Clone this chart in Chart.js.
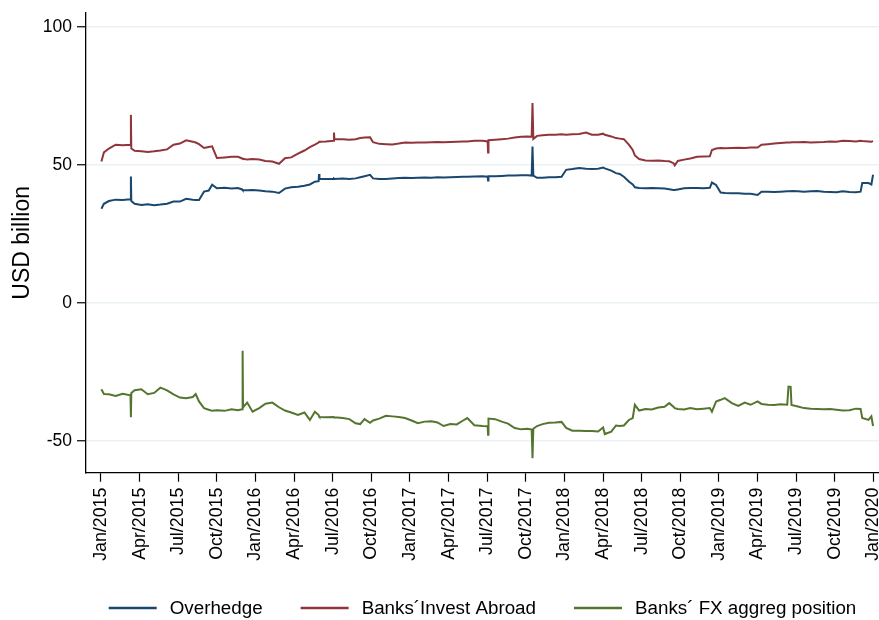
<!DOCTYPE html>
<html>
<head>
<meta charset="utf-8">
<script src="https://cdn.jsdelivr.net/npm/chart.js@4.4.1/dist/chart.umd.min.js"></script>
<style>
  html, body { margin: 0; padding: 0; background: #ffffff; }
  canvas { display: block; }
</style>
</head>
<body>
<canvas id="c" width="879" height="620"></canvas>
<script>
// ---------------- DATA ----------------
const seriesNames = ["Overhedge", "Banks\u00B4Invest Abroad", "Banks\u00B4 FX aggreg position"];

const tickLabels = ["Jan/2015","Apr/2015","Jul/2015","Oct/2015","Jan/2016","Apr/2016","Jul/2016","Oct/2016",
  "Jan/2017","Apr/2017","Jul/2017","Oct/2017","Jan/2018","Apr/2018","Jul/2018","Oct/2018",
  "Jan/2019","Apr/2019","Jul/2019","Oct/2019","Jan/2020"];

const yTickValues = [-50, 0, 50, 100];

const dates = [
 "2015-01-02","2015-01-08","2015-01-20","2015-02-05","2015-02-20","2015-03-10","2015-03-11","2015-03-12","2015-03-20","2015-04-05",
 "2015-04-20","2015-05-05","2015-05-20","2015-06-05","2015-06-20","2015-07-05","2015-07-20","2015-08-05","2015-08-12","2015-08-20",
 "2015-09-01","2015-09-12","2015-09-20","2015-10-01","2015-10-20","2015-11-05","2015-11-20","2015-11-30","2015-12-01","2015-12-02",
 "2015-12-12","2015-12-25","2016-01-10","2016-01-25","2016-02-10","2016-02-25","2016-03-10","2016-03-25","2016-04-10","2016-04-25",
 "2016-05-08","2016-05-20","2016-05-29","2016-05-30","2016-05-31","2016-06-15","2016-07-03","2016-07-04","2016-07-05","2016-07-25",
 "2016-08-10","2016-08-25","2016-09-05","2016-09-15","2016-09-28","2016-10-05","2016-10-20","2016-11-05","2016-11-20","2016-12-05",
 "2016-12-20","2017-01-05","2017-01-20","2017-02-05","2017-02-20","2017-03-05","2017-03-20","2017-04-05","2017-04-20","2017-05-05",
 "2017-05-15","2017-06-01","2017-06-20","2017-07-02","2017-07-03","2017-07-04","2017-07-20","2017-08-05","2017-08-20","2017-09-05",
 "2017-09-20","2017-10-05","2017-10-15","2017-10-17","2017-10-19","2017-10-28","2017-11-10","2017-11-25","2017-12-10","2017-12-25",
 "2018-01-05","2018-01-20","2018-02-05","2018-02-20","2018-03-05","2018-03-20","2018-04-01","2018-04-05","2018-04-20","2018-05-01",
 "2018-05-10","2018-05-20","2018-06-01","2018-06-10","2018-06-15","2018-06-25","2018-07-10","2018-07-25","2018-08-10","2018-08-25",
 "2018-09-05","2018-09-15","2018-09-18","2018-09-25","2018-10-10","2018-10-25","2018-11-10","2018-11-25","2018-12-10","2018-12-15",
 "2018-12-25","2019-01-05","2019-01-15","2019-02-01","2019-02-15","2019-03-01","2019-03-15","2019-04-01","2019-04-10","2019-04-25",
 "2019-05-10","2019-05-25","2019-06-10","2019-06-13","2019-06-18","2019-06-20","2019-07-05","2019-07-20","2019-08-05","2019-08-20",
 "2019-09-05","2019-09-20","2019-10-05","2019-10-20","2019-11-05","2019-11-20","2019-12-01","2019-12-05","2019-12-20","2019-12-27",
 "2019-12-31"
];

const overhedge = [
 34.2,36.0,37.0,37.5,37.4,37.6,45.9,37.0,36.0,35.6,
 35.8,35.5,35.7,36.0,36.8,36.8,37.8,37.5,37.4,37.4,
 40.4,40.8,42.9,41.6,41.8,41.5,41.7,41.2,41.0,41.0,
 40.9,41.0,40.8,40.5,40.4,39.9,41.5,42.0,42.2,42.5,
 43.0,44.0,44.2,46.8,45.0,45.0,45.0,45.1,45.0,45.2,
 45.0,45.2,45.6,46.0,46.5,45.2,45.0,45.0,45.2,45.3,
 45.4,45.3,45.4,45.5,45.4,45.6,45.5,45.6,45.7,45.8,
 45.8,45.9,46.0,45.8,44.4,46.0,46.0,46.1,46.2,46.2,
 46.3,46.3,46.2,56.7,46.2,45.4,45.4,45.6,45.6,45.8,
 48.3,48.6,49.0,48.7,48.6,48.7,49.1,48.8,48.0,47.1,
 46.8,45.8,44.1,43.0,42.0,41.7,41.6,41.7,41.6,41.5,
 41.3,41.0,41.0,41.2,41.6,41.7,41.7,41.6,41.8,43.7,
 42.8,40.1,39.9,39.8,39.8,39.6,39.6,39.2,40.4,40.4,
 40.3,40.4,40.5,40.5,40.5,40.6,40.5,40.4,40.5,40.6,
 40.4,40.3,40.2,40.5,40.3,40.2,40.4,43.5,43.5,43.0,
 46.5
];

const investAbroad = [
 51.3,54.6,56.0,57.4,57.2,57.4,68.2,56.0,55.2,55.0,
 54.8,55.0,55.3,55.7,57.4,57.8,59.0,58.5,58.2,57.6,
 56.2,56.6,56.8,52.6,52.8,53.0,53.0,52.4,52.3,52.3,
 52.0,52.2,52.0,51.5,51.3,50.5,52.5,52.8,54.2,55.3,
 56.5,57.4,58.2,58.4,58.5,58.6,58.8,61.8,59.4,59.4,
 59.2,59.4,59.8,60.0,60.1,58.3,57.7,57.6,57.5,57.8,
 58.2,58.1,58.2,58.2,58.3,58.4,58.3,58.4,58.5,58.6,
 58.6,58.8,58.8,58.6,54.6,59.0,59.2,59.4,59.6,60.0,
 60.3,60.4,60.3,72.5,59.5,60.6,60.8,61.0,61.0,61.2,
 61.0,61.2,61.3,61.8,61.0,61.0,61.4,61.0,60.4,59.8,
 59.6,59.4,57.4,55.5,53.5,52.2,51.7,51.6,51.7,51.5,
 51.4,50.7,49.9,51.5,52.0,52.4,53.0,53.1,53.2,55.5,
 56.0,56.2,56.1,56.2,56.3,56.2,56.4,56.4,57.4,57.6,
 57.8,58.0,58.2,58.2,58.2,58.3,58.3,58.4,58.2,58.3,
 58.4,58.6,58.5,58.8,58.7,58.6,58.8,58.7,58.6,58.5,
 58.7
];

const fxPosition = [
 -31.2,-32.9,-33.0,-33.6,-32.8,-33.4,-41.3,-32.5,-31.5,-31.2,
 -33.0,-32.5,-30.6,-31.6,-33.0,-34.2,-34.4,-34.0,-32.9,-35.6,
 -38.0,-38.6,-39.0,-38.8,-39.0,-38.4,-38.8,-38.4,-17.2,-37.7,
 -36.0,-39.3,-38.0,-36.4,-36.0,-37.7,-38.9,-39.6,-40.5,-39.6,
 -42.3,-39.3,-40.5,-41.0,-41.2,-41.3,-41.2,-41.3,-41.3,-41.6,
 -42.0,-43.5,-43.8,-42.0,-43.3,-42.5,-41.8,-40.8,-41.0,-41.2,
 -41.6,-42.5,-43.5,-42.9,-42.8,-43.2,-44.5,-43.8,-43.9,-42.5,
 -41.6,-44.2,-44.5,-44.6,-47.7,-41.8,-42.0,-42.9,-43.6,-45.2,
 -45.7,-45.5,-45.8,-56.2,-45.5,-44.5,-43.8,-43.3,-43.2,-43.0,
 -45.2,-46.2,-46.2,-46.3,-46.3,-46.5,-45.0,-47.4,-46.5,-44.3,
 -44.5,-44.3,-42.3,-41.6,-36.8,-38.9,-38.3,-38.5,-37.8,-37.5,
 -36.2,-37.5,-38.0,-38.3,-38.5,-38.0,-38.4,-38.2,-38.0,-39.3,
 -35.6,-35.0,-34.4,-36.2,-37.2,-36.0,-36.8,-35.6,-36.5,-36.8,
 -36.9,-36.6,-36.8,-30.2,-30.3,-36.9,-37.4,-38.0,-38.2,-38.3,
 -38.4,-38.3,-38.6,-38.9,-38.8,-38.2,-38.3,-41.6,-42.3,-41.0,
 -44.5
];

const seriesColors = ["#1a476f", "#90353b", "#55752f"];

// ---------------- HELPERS ----------------
function monthsSinceStart(s) {
  const [y, m, d] = s.split("-").map(Number);
  const dim = new Date(y, m, 0).getDate();
  return (y - 2015) * 12 + (m - 1) + (d - 1) / dim;
}
const xs = dates.map(monthsSinceStart);
function toPoints(vals) { return vals.map((v, i) => ({ x: xs[i], y: v })); }

const FONT = '"Liberation Sans", Arial, Helvetica, sans-serif';
Chart.defaults.font.family = FONT;
Chart.defaults.color = "#000000";

const legendPlugin = {
  id: "stataLegend",
  afterDraw(chart) {
    const ctx = chart.ctx;
    const ca = chart.chartArea;
    ctx.save();
    ctx.font = "18.8px " + FONT;
    const lineLen = 48, gap = 13, itemGap = 38;
    const items = chart.data.datasets.map(ds => ({ text: ds.label, color: ds.borderColor, w: ctx.measureText(ds.label).width }));
    let total = 0;
    items.forEach((it, i) => { total += lineLen + gap + it.w + (i < items.length - 1 ? itemGap : 0); });
    let x = (ca.left + ca.right) / 2 - total / 2;
    const y = 608;
    items.forEach(it => {
      ctx.strokeStyle = it.color;
      ctx.lineWidth = 2.5;
      ctx.beginPath();
      ctx.moveTo(x, y);
      ctx.lineTo(x + lineLen, y);
      ctx.stroke();
      ctx.fillStyle = "#000000";
      ctx.textBaseline = "middle";
      ctx.textAlign = "left";
      ctx.fillText(it.text, x + lineLen + gap, y + 1);
      x += lineLen + gap + it.w + itemGap;
    });
    ctx.restore();
  }
};

const seriesValues = [overhedge, investAbroad, fxPosition];

new Chart(document.getElementById("c"), {
  type: "line",
  data: {
    datasets: seriesNames.map((name, i) => ({
      label: name,
      data: toPoints(seriesValues[i]),
      borderColor: seriesColors[i],
      backgroundColor: seriesColors[i],
      borderWidth: 2,
      pointRadius: 0,
      tension: 0,
      fill: false
    }))
  },
  options: {
    responsive: false,
    animation: false,
    devicePixelRatio: 1,
    layout: { padding: { top: 13, left: 0, right: 0, bottom: 0 } },
    plugins: {
      legend: { display: false },
      tooltip: { enabled: false }
    },
    scales: {
      x: {
        type: "linear",
        min: -1.165,
        max: 60.43,
        afterBuildTicks(scale) {
          scale.ticks = tickLabels.map((_, i) => ({ value: i * 3 }));
        },
        afterFit(scale) {
          scale.height = 147.3;
          scale.paddingLeft = 0;
          scale.paddingRight = 0;
        },
        ticks: {
          autoSkip: false,
          minRotation: 90,
          maxRotation: 90,
          padding: 6,
          font: { size: 17.8 },
          callback(v) { return tickLabels[Math.round(v / 3)]; }
        },
        grid: {
          drawOnChartArea: false,
          tickLength: 9,
          tickColor: "#000000",
          tickWidth: 1.2
        },
        border: { color: "#000000", width: 1.3 }
      },
      y: {
        type: "linear",
        min: -61.4,
        max: 105.1,
        afterBuildTicks(scale) {
          scale.ticks = yTickValues.map(v => ({ value: v }));
        },
        afterFit(scale) {
          scale.width = 86;
          scale.paddingTop = 0;
          scale.paddingBottom = 0;
        },
        ticks: {
          padding: 5,
          font: { size: 17.5 },
          callback(v) { return String(v); }
        },
        grid: {
          color: "#eaf2f3",
          lineWidth: 1.5,
          tickLength: 9,
          tickColor: "#000000",
          tickWidth: 1.2
        },
        border: { color: "#000000", width: 1.3 },
        title: {
          display: true,
          text: "USD billion",
          font: { size: 23 },
          padding: { top: 9, bottom: 0 }
        }
      }
    }
  },
  plugins: [legendPlugin]
});
</script>
</body>
</html>
